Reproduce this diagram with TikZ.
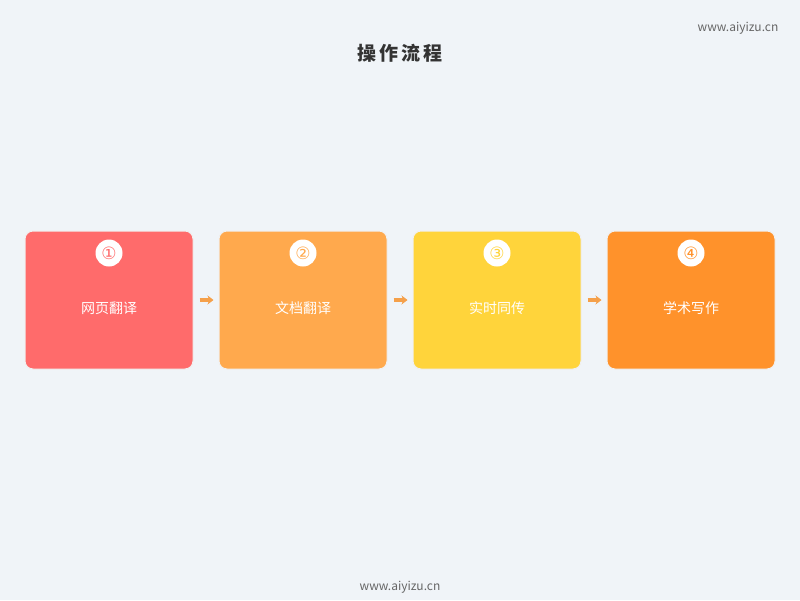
\documentclass[tikz,border=0pt]{standalone}
\usepackage{fontspec}
\newfontfamily\cjk{Noto Sans CJK SC}
\newfontfamily\symb{DejaVu Sans}
\usetikzlibrary{arrows.meta}
\definecolor{bgcol}{HTML}{F0F4F8}
\definecolor{titlecol}{HTML}{333333}
\definecolor{markcol}{HTML}{666666}
\definecolor{redcol}{HTML}{FF6B6B}
\definecolor{peachcol}{HTML}{FFA94D}
\definecolor{yellowcol}{HTML}{FFD43B}
\definecolor{orangecol}{HTML}{FF922B}
\definecolor{arrowcol}{HTML}{F5A04A}
\tikzset{
  stepbox/.style={rounded corners=8pt,draw=white!88!gray,line width=1pt,
    minimum width=168pt,minimum height=138pt,inner sep=0pt},
  numdot/.style={circle,fill=white,minimum size=27pt,inner sep=0pt,
    font=\symb\fontsize{17}{17}\selectfont},
  steplabel/.style={text=white,font=\cjk\fontsize{14}{16}\selectfont},
  flowarrow/.style={-{Stealth[length=6pt,width=9pt]},line width=3.5pt,
    draw=arrowcol,shorten <=6pt,shorten >=5pt},
  watermark/.style={text=markcol,font=\cjk\fontsize{12}{14}\selectfont}
}
\begin{document}
\begin{tikzpicture}[x=1pt,y=-1pt]
	\fill[bgcol] (0,0) rectangle (800,600);
	\useasboundingbox (0,0) rectangle (800,600);
	% title and marks
	\node[text=titlecol,font=\cjk\bfseries\fontsize{19}{21}\selectfont] (title) at (400,53)
		{操\hspace{3pt}作\hspace{3pt}流\hspace{3pt}程};
	\node[watermark] (marktop) at (738,28) {www.aiyizu.cn};
	\node[watermark] (markbot) at (400,587) {www.aiyizu.cn};
	% steps
	\foreach \c/\num/\t [count=\n] in {redcol/①/网页翻译,peachcol/②/文档翻译,yellowcol/③/实时同传,orangecol/④/学术写作}{
		\node[stepbox,fill=\c] (s\n) at ({109+194*(\n-1)},300) {};
		\node[numdot,text=\c] (d\n) at ({109+194*(\n-1)},253) {\num};
		\node[steplabel] (t\n) at ({109+194*(\n-1)},308) {\t};
	}
	\foreach \a/\b in {1/2,2/3,3/4}
		\draw[flowarrow] (s\a.east) -- (s\b.west);
\end{tikzpicture}
\end{document}
